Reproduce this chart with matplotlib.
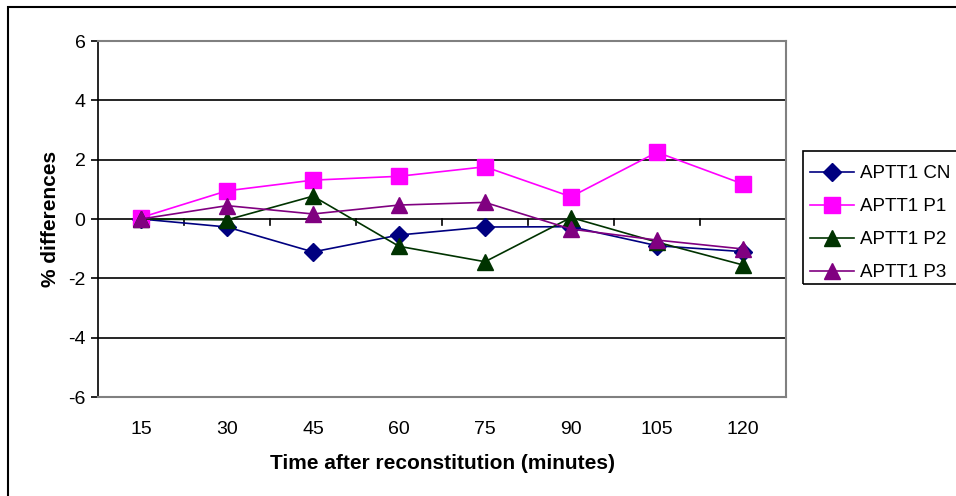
import matplotlib
matplotlib.use("Agg")
import matplotlib.pyplot as plt
from matplotlib.patches import Rectangle
import numpy as np

plt.rcParams['font.family'] = ['Liberation Sans', 'DejaVu Sans']

times = ["15", "30", "45", "60", "75", "90", "105", "120"]
cn = [0.0, -0.27, -1.11, -0.54, -0.27, -0.26, -0.90, -1.10]
p1 = [0.05, 0.95, 1.31, 1.44, 1.76, 0.75, 2.25, 1.18]
p2 = [0.0, -0.03, 0.77, -0.92, -1.44, 0.05, -0.78, -1.55]
p3 = [0.0, 0.45, 0.17, 0.47, 0.56, -0.34, -0.71, -1.01]
series = [("APTT1 CN", cn, "#000080", "D", 9),
          ("APTT1 P1", p1, "#FF00FF", "s", 11),
          ("APTT1 P2", p2, "#003300", "^", 11),
          ("APTT1 P3", p3, "#800080", "^", 11)]

W, H = 956, 496
fig = plt.figure(figsize=(W/100, H/100), dpi=100)
left, right, top, bottom = 98, 786, 41, 397
ax = fig.add_axes([left/W, 1-bottom/H, (right-left)/W, (bottom-top)/H])

x = np.arange(len(times))
for name, vals, col, mk, ms in series:
    ax.plot(x, vals, color=col, marker=mk, markersize=ms, linewidth=1.2,
            label=name, zorder=3, clip_on=False)

ax.set_xlim(-0.5, len(times)-0.5)
ax.set_ylim(-6, 6)
ax.set_yticks(np.arange(-6, 7, 2))
ax.set_yticklabels([str(v) for v in range(-6, 7, 2)])
for v in [-4, -2, 2, 4]:
    ax.axhline(v, color='black', linewidth=1.2, zorder=1)
# zero axis with category ticks pointing down
ax.axhline(0, color='black', linewidth=1.2, zorder=2)
for b in np.arange(0.5, len(times)-0.5, 1.0):
    ax.plot([b, b], [0, -0.2], color='black', linewidth=1.2, zorder=2)

ax.set_xticks(x)
ax.set_xticklabels(times, fontsize=14)
ax.tick_params(axis='x', length=0, pad=17)
ax.tick_params(axis='y', length=5, width=1.2, labelsize=14, pad=4)

for s in ['top', 'right', 'bottom']:
    ax.spines[s].set_color('#808080')
    ax.spines[s].set_linewidth(1.5)
ax.spines['left'].set_color('black')
ax.spines['left'].set_linewidth(1.2)

ax.set_xlabel("Time after reconstitution (minutes)", fontsize=15, fontweight='bold', labelpad=12)
ax.set_ylabel("% differences", fontsize=15, fontweight='bold', labelpad=6)

# outer chart border
fig.patches.append(Rectangle((8/W, -0.01), 1.0, 1-7/H+0.01, transform=fig.transFigure,
                             fill=False, edgecolor='black', linewidth=1.5))

# legend frame
fig.patches.append(Rectangle((803/W, 1-284/H), 0.5, (284-151)/H, transform=fig.transFigure,
                             fill=False, edgecolor='black', linewidth=1.2, zorder=5))
leg = fig.legend(loc='upper left', bbox_to_anchor=(810/W, 1-165/H), frameon=False,
                 fontsize=13.5, handlelength=2.35, borderpad=0, labelspacing=0.85,
                 handletextpad=0.3, borderaxespad=0)

fig.savefig("out.png", dpi=100)
